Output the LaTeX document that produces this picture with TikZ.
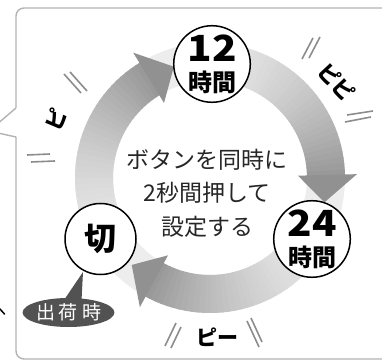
\documentclass[tikz,border=0pt]{standalone}
\usepackage{fontspec}
\setmainfont{Noto Sans CJK JP}
\usetikzlibrary{shapes.geometric,calc}

\begin{document}
\begin{tikzpicture}[
  x=1pt,y=1pt,
  frame/.style={draw=black!30,line width=1.4pt},
  stage/.style={circle,draw=black,line width=1.5pt,fill=white,minimum size=72pt,inner sep=0pt,align=center,font=\bfseries\fontsize{24}{30}\selectfont},
  beep/.style={font=\bfseries\fontsize{21}{21}\selectfont},
  tick/.style={draw=black!45,line width=1.6pt},
  tag/.style={ellipse,fill=black!68,text=white,minimum width=89pt,minimum height=29pt,inner sep=0pt,font=\fontsize{19}{19}\selectfont}
]
\useasboundingbox (0,0) rectangle (382,361);

% callout frame around the cycle
\draw[frame,rounded corners=8pt] (16,224) -- (16,2) -- (395,2) -- (395,353) -- (16,353) -- (16,253);
\draw[frame] (16,253) -- (-11,230) -- (16,224);
\draw[line width=1.5pt,line cap=round] (-1,53) -- (4.5,47);

% ring with three shaded arrows
\begin{scope}[shift={(210,183)}]
  \fill[black!7,even odd rule] (0,0) circle[radius=135] (0,0) circle[radius=97];
  \foreach \b in {121,1,241}{
    \foreach \k in {0,...,39}{
      \pgfmathsetmacro\aone{\b+107-107*\k/40}
      \pgfmathsetmacro\atwo{\b+107-107*(\k+1)/40-0.6}
      \pgfmathsetmacro\tone{7+33*(\k/39)^1.7}
      \fill[black!\tone] (\aone:135) arc[start angle=\aone,end angle=\atwo,radius=135]
        -- (\atwo:97) arc[start angle=\atwo,end angle=\aone,radius=97] -- cycle;
    }
    \fill[black!43] ({\b+0.5}:147) -- ({\b-13}:117) -- ({\b+0.5}:88) -- cycle;
  }
\end{scope}

% the three states
\node[stage] (h12) at (212,297) {{\fontsize{36}{36}\selectfont\scalebox{1.12}[1]{12}}\\時間};
\node[stage] (h24) at (312,122) {{\fontsize{36}{36}\selectfont\scalebox{1.12}[1]{24}}\\時間};
\node[stage,minimum size=71pt,font=\bfseries\fontsize{32}{32}\selectfont] (off) at (100.5,122) {切};

% factory setting tag
\node[tag] (ship) at (68.5,48.5) {出\hspace{4pt}荷\hspace{4pt}時};
\coordinate (shiptip) at (83,89);
\fill[black!68] ($(ship.north)+(-5,-3)$) -- (shiptip) -- ($(ship.north)+(13,-3)$) -- cycle;

% centre message
\node[align=center,text=black!85,font=\fontsize{23}{33.5}\selectfont] (msg) at (207,168) {ボタンを同時に\\2秒間押して\\設定する};

% beeps
\node[beep,rotate=67] (b1) at (56,241) {ピ};
\node[beep,rotate=-47] (b2) at (337,279) {ピピ};
\node[beep] (b3) at (217,24) {ピー};

% sound marks
\draw[tick] (64,287) -- (81,268) (70,289) -- (87,270);
\draw[tick] (27,206) -- (50,207) (31,199) -- (55,200);
\draw[tick] (302,302) -- (313,323) (309,303) -- (320,324);
\draw[tick] (347,246) -- (373,250) (345,239) -- (371,244);
\draw[tick] (165,15) -- (176,38) (171,13) -- (181,34);
\draw[tick] (247,40) -- (259,14) (251,43) -- (262,19);
\end{tikzpicture}
\end{document}
